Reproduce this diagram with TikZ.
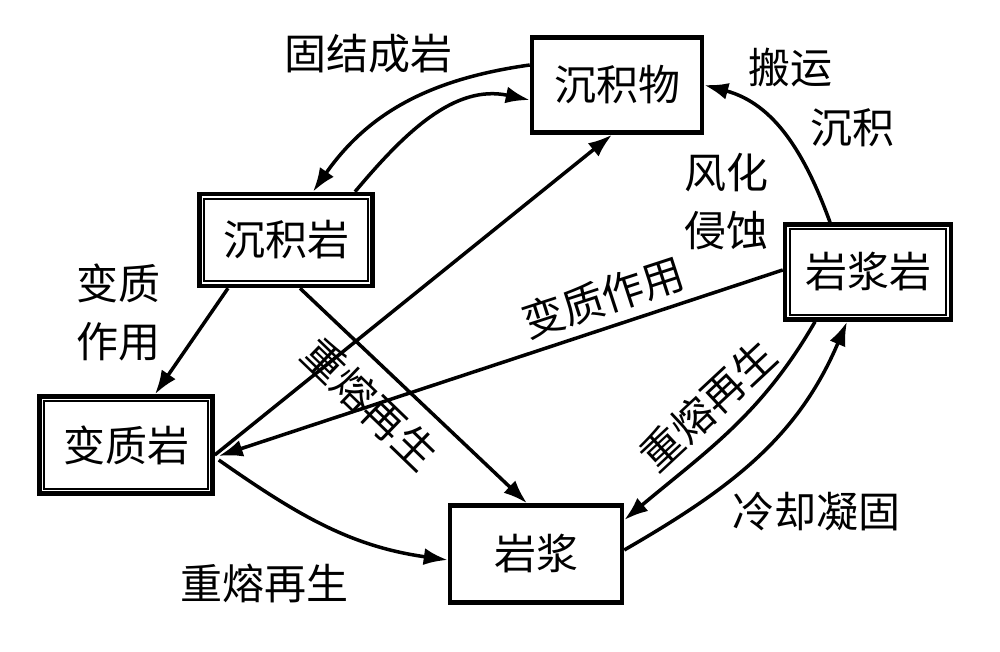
\documentclass[tikz,border=0pt]{standalone}
\usepackage{fontspec}
\newfontfamily\cjk{Noto Sans CJK SC}
\usetikzlibrary{arrows.meta}
\begin{document}
\begin{tikzpicture}[x=1pt,y=1pt,
  box/.style={draw, line width=4.5pt, rectangle, inner sep=0pt, font=\cjk\fontsize{42}{50}\selectfont},
  lbl/.style={inner sep=0pt, font=\cjk\fontsize{42}{58}\selectfont, align=center},
  arr/.style={line width=3.5pt, -{Latex[length=24pt,width=17pt]}},
  inbox/.style={line width=2pt}]
\fill[white] (0,0) rectangle (1000,652);
\useasboundingbox (0,0) rectangle (1000,652);

% boxes
\node[box, minimum width=170pt, minimum height=95pt] (cjw) at (617,567) {沉积物};
\node[box, minimum width=173pt, minimum height=92pt] (cjy) at (286,412) {沉积岩};
\node[box, minimum width=173pt, minimum height=97pt] (bzy) at (126,207) {变质岩};
\node[box, minimum width=166pt, minimum height=95pt] (yjy) at (868,380) {岩浆岩};
\node[box, minimum width=172pt, minimum height=97pt] (yj) at (536,98) {岩浆};
\foreach \b in {cjy,bzy,yjy}{
  \draw[inbox] ([xshift=7pt,yshift=-7pt]\b.north west) rectangle ([xshift=-7pt,yshift=7pt]\b.south east);
}

% connector end points
\coordinate (p1s) at ([yshift=20pt]cjw.west);
\coordinate (p1e) at ([xshift=27pt]cjy.north);
\coordinate (p2s) at ([xshift=69pt]cjy.north);
\coordinate (p2e) at ([yshift=-15pt]cjw.west);
\coordinate (p3s) at ([xshift=-58pt]cjy.south);
\coordinate (p3e) at ([xshift=29pt]bzy.north);
\coordinate (p4s) at ([xshift=14pt]cjy.south);
\coordinate (p4e) at ([xshift=-9pt]yj.north);
\coordinate (p5s) at ([yshift=-10pt]bzy.east);
\coordinate (p5e) at ([xshift=-5pt]cjw.south);
\coordinate (p6s) at ([yshift=2pt]yjy.west);
\coordinate (p6e) at ([xshift=4pt,yshift=-11pt]bzy.east);
\coordinate (p7s) at ([xshift=4pt,yshift=-15pt]bzy.east);
\coordinate (p7e) at ([yshift=-6pt]yj.west);
\coordinate (p8s) at ([yshift=4pt]yj.east);
\coordinate (p8e) at ([xshift=-21pt]yjy.south);
\coordinate (p9s) at ([xshift=-53pt]yjy.south);
\coordinate (p9e) at ([yshift=34pt]yj.east);
\coordinate (p10s) at ([xshift=-38pt]yjy.north);
\coordinate (p10e) at ([yshift=0pt]cjw.east);

% connectors
\draw[arr] (p1s) to[out=188,in=55] (p1e);
\draw[arr] (p2s) to[out=50,in=168] (p2e);
\draw[arr] (p3s) -- (p3e);
\draw[arr] (p4s) -- (p4e);
\draw[arr] (p5s) -- (p5e);
\draw[arr] (p6s) -- (p6e);
\draw[arr] (p7s) to[out=-35,in=172] (p7e);
\draw[arr] (p8s) to[out=30,in=-113] (p8e);
\draw[arr] (p9s) to[out=240,in=40] (p9e);
\draw[arr] (p10s) to[out=110,in=-15] (p10e);

% labels
\node[lbl] (l1) at (368,598) {固结成岩};
\node[lbl] (l2) at (790,584) {搬运};
\node[lbl] (l3) at (852,524) {沉积};
\node[lbl] (l4) at (726,450) {风化\\侵蚀};
\node[lbl] (l5) at (118,340) {变质\\作用};
\node[lbl, rotate=18] (l6) at (603,355) {变质作用};
\node[lbl, rotate=-44] (l7) at (370,248) {重熔再生};
\node[lbl, rotate=43] (l8) at (708,247) {重熔再生};
\node[lbl] (l9) at (816,140) {冷却凝固};
\node[lbl] (l10) at (264,69) {重熔再生};
\end{tikzpicture}
\end{document}
